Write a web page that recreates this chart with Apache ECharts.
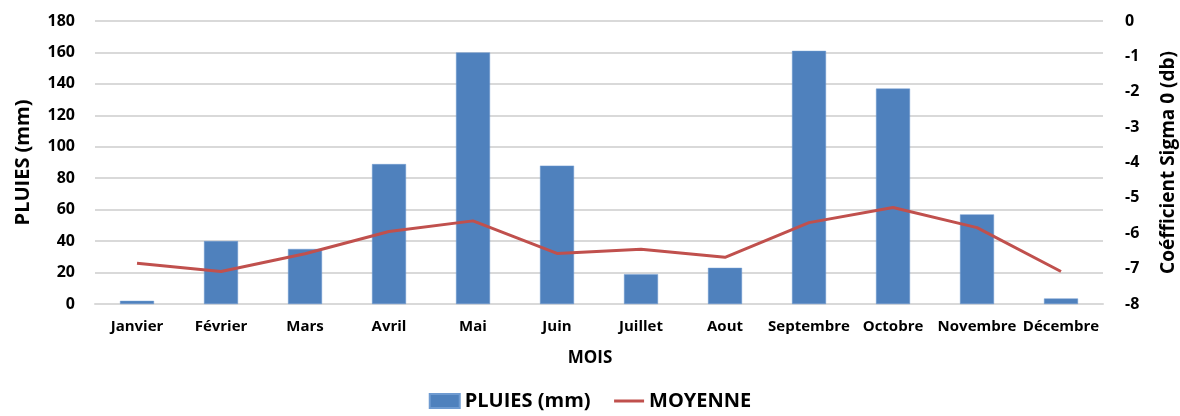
<!DOCTYPE html>
<html>
<head>
<meta charset="utf-8">
<script src="https://cdn.jsdelivr.net/npm/echarts@6/dist/echarts.min.js"></script>
<style>
  html, body { margin: 0; padding: 0; background: #fff; }
  #main { width: 1180px; height: 416px; }
</style>
</head>
<body>
<div id="main"></div>
<script>
// mois et valeurs
const mois = ['Janvier', 'Février', 'Mars', 'Avril', 'Mai', 'Juin', 'Juillet', 'Aout', 'Septembre', 'Octobre', 'Novembre', 'Décembre']
const pluies = [2, 40, 35, 89, 160, 88, 19, 23, 161, 137, 57, 3.5]
const moyenne = [-6.85, -7.08, -6.58, -5.95, -5.65, -6.57, -6.45, -6.68, -5.7, -5.27, -5.84, -7.08]

const font = '"Open Sans", sans-serif'
const gridColor = '#d9d9d9'

const myChart = echarts.init(document.getElementById('main'))

const option = {
  backgroundColor: '#fff',
  animation: false,
  textStyle: { fontFamily: font },
  grid: {
    left: 95,
    right: 77,
    top: 21,
    bottom: 112,
    outerBoundsMode: 'none'
  },
  legend: {
    bottom: 0,
    left: 'center',
    itemWidth: 30,
    itemHeight: 14,
    itemGap: 22,
    textStyle: { fontSize: 20, fontWeight: 'bold', color: '#000', fontFamily: font },
    data: [
      { name: 'PLUIES (mm)', icon: 'rect' },
      { name: 'MOYENNE', itemStyle: { opacity: 0 }, lineStyle: { width: 3 } }
    ]
  },
  xAxis: {
    type: 'category',
    data: mois,
    name: 'MOIS',
    nameLocation: 'middle',
    nameGap: 46,
    nameMoveOverlap: false,
    nameTextStyle: { fontSize: 17, fontWeight: 'bold', color: '#000', padding: [0, 18, 0, 0] },
    axisLine: { lineStyle: { color: gridColor, width: 2 } },
    axisTick: { show: false },
    axisLabel: { fontSize: 15, fontWeight: 'bold', color: '#000', margin: 15, interval: 0 }
  },
  yAxis: [
    {
      type: 'value',
      min: 0,
      max: 180,
      interval: 20,
      name: 'PLUIES (mm)',
      nameLocation: 'middle',
      nameGap: 62,
      nameMoveOverlap: false,
      nameTextStyle: { fontSize: 20, fontWeight: 'bold', color: '#000' },
      axisLine: { show: false },
      axisTick: { show: false },
      axisLabel: { fontSize: 16, fontWeight: 'bold', color: '#000', margin: 20 },
      splitLine: { lineStyle: { color: gridColor, width: 2 } }
    },
    {
      type: 'value',
      min: -8,
      max: 0,
      interval: 1,
      name: 'Coéfficient Sigma 0 (db)',
      nameLocation: 'middle',
      nameGap: 56,
      nameMoveOverlap: false,
      nameTextStyle: { fontSize: 19, fontWeight: 'bold', color: '#000' },
      axisLine: { show: false },
      axisTick: { show: false },
      axisLabel: { fontSize: 16, fontWeight: 'bold', color: '#000', margin: 22 },
      splitLine: { show: false }
    }
  ],
  series: [
    {
      name: 'PLUIES (mm)',
      type: 'bar',
      data: pluies,
      barWidth: 34,
      itemStyle: { color: '#4f81bd', borderColor: '#6f9bd1', borderWidth: 0.5 }
    },
    {
      name: 'MOYENNE',
      type: 'line',
      yAxisIndex: 1,
      data: moyenne,
      symbol: 'none',
      lineStyle: { color: '#c0504d', width: 3 },
      itemStyle: { color: '#c0504d' }
    }
  ]
}

myChart.setOption(option)
</script>
</body>
</html>
